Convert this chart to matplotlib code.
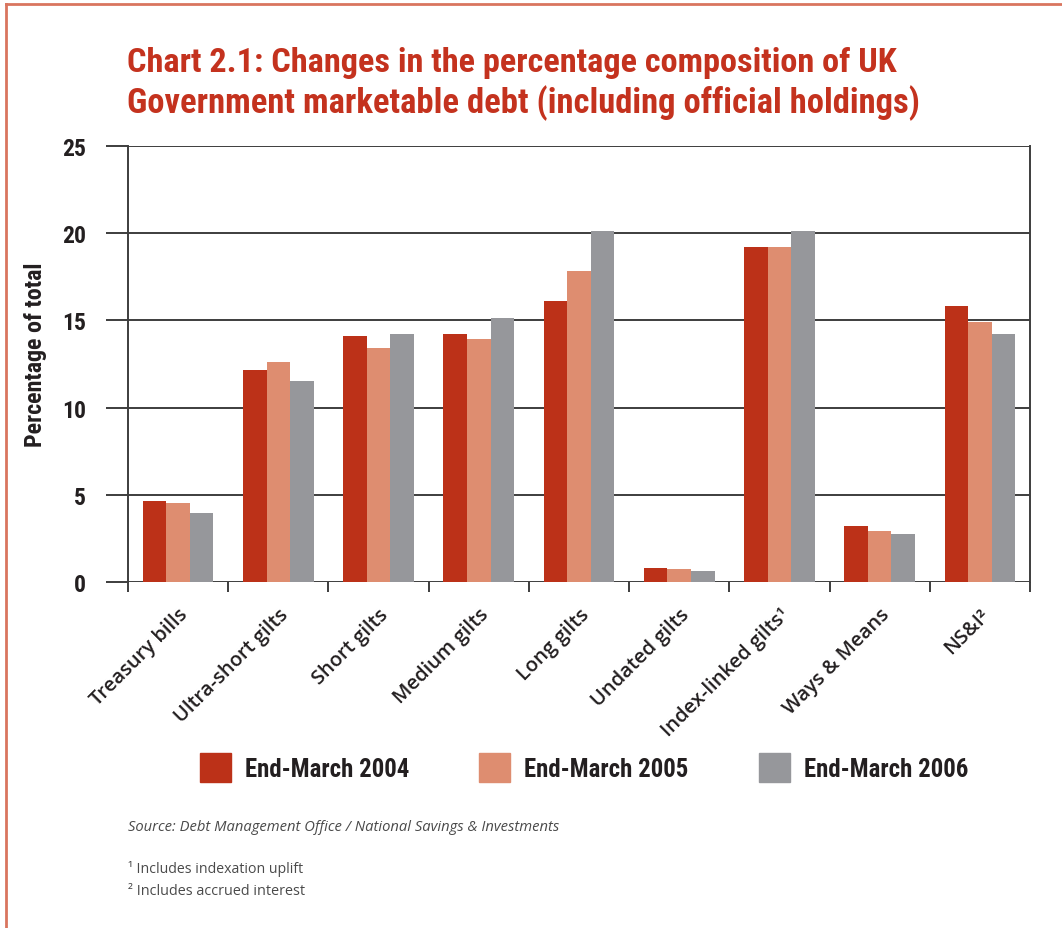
import matplotlib
matplotlib.use("Agg")
import matplotlib.pyplot as plt
from matplotlib.lines import Line2D
from matplotlib.patches import Rectangle
from matplotlib import font_manager as fm
import numpy as np

categories = ["Treasury bills", "Ultra-short gilts", "Short gilts", "Medium gilts",
              "Long gilts", "Undated gilts", "Index-linked gilts\u00b9", "Ways & Means",
              "NS&I\u00b2"]
series_names = ["End-March 2004", "End-March 2005", "End-March 2006"]
v2004 = [4.63, 12.14, 14.09, 14.2, 16.09, 0.78, 19.19, 3.19, 15.8]
v2005 = [4.51, 12.6, 13.4, 13.91, 17.81, 0.73, 19.19, 2.9, 14.89]
v2006 = [3.94, 11.5, 14.2, 15.12, 20.1, 0.61, 20.1, 2.73, 14.2]
yticks = [0, 5, 10, 15, 20, 25]
colors = ["#BC3118", "#DE8D70", "#96979B"]

# pick a condensed font if one is installed
names = {f.name for f in fm.fontManager.ttflist}
cond_cands = ["Roboto Condensed", "DejaVu Sans Condensed", "Liberation Sans Narrow",
              "Open Sans Condensed", "Noto Sans Condensed", "Ubuntu Condensed",
              "Arial Narrow", "Roboto"]
COND_NAME = next((c for c in cond_cands if c in names), "DejaVu Sans")
COND = [COND_NAME, "DejaVu Sans"]
COND_STRETCH = "condensed"
BODY = ["Open Sans", "DejaVu Sans"]

W, H = 1062, 929
fig = plt.figure(figsize=(W / 100, H / 100), dpi=100)
fig.patch.set_facecolor("white")

def px(x, y):
    return x / W, 1 - y / H

ax = fig.add_axes([128 / W, 1 - 583 / H, (1030 - 128) / W, (583 - 147) / H])
x = np.arange(len(categories))
bw = 0.235
for k, vals in enumerate([v2004, v2005, v2006]):
    ax.bar(x + (k - 1) * bw, vals, width=bw, color=colors[k], zorder=3, linewidth=0)

ax.set_xlim(-0.5, len(categories) - 0.5)
ax.set_ylim(0, 25)
gridc = "#3d3d3d"
for yv in yticks:
    ax.axhline(yv, color=gridc, lw=1.4, zorder=2)
ax.set_yticks(yticks)
ax.set_yticklabels([str(t) for t in yticks], family=COND, fontweight="bold",
                   stretch=COND_STRETCH, fontsize=17, color="#231f20")
ax.tick_params(axis="y", length=16, width=1.4, color=gridc, pad=14, direction="out")
ax.set_xticks(x)
ax.set_xticklabels(categories, rotation=45, ha="right", rotation_mode="anchor",
                   family=BODY, fontweight="semibold", fontsize=14.5, color="#231f20")
ax.tick_params(axis="x", which="major", length=0, pad=16)
ax.set_xticks(np.arange(len(categories) + 1) - 0.5, minor=True)
ax.tick_params(axis="x", which="minor", length=7.5, width=1.4, color=gridc, direction="out")
for s in ["top", "bottom"]:
    ax.spines[s].set_visible(False)
for s in ["left", "right"]:
    ax.spines[s].set_color(gridc)
    ax.spines[s].set_linewidth(1.4)

# Title
tc = "#C4321E"
t1 = fig.text(*px(127, 72), "Chart 2.1: Changes in the percentage composition of UK",
              family=COND, fontweight="bold", stretch=COND_STRETCH, fontsize=26,
              color=tc, va="baseline")
t2 = fig.text(*px(127, 113), "Government marketable debt (including official holdings)",
              family=COND, fontweight="bold", stretch=COND_STRETCH, fontsize=26,
              color=tc, va="baseline")

ylab = fig.text(*px(36, 355), "Percentage of total", rotation=90, family=COND,
                fontweight="bold", stretch=COND_STRETCH, fontsize=16, color="#231f20",
                ha="center", va="center")

# Legend
leg_x = [200, 479, 759]
legt = []
for k in range(3):
    fig.patches.append(Rectangle(px(leg_x[k], 783), 31 / W, 29 / H, transform=fig.transFigure,
                                 color=colors[k], figure=fig))
    legt.append(fig.text(*px(leg_x[k] + 45, 777), series_names[k], family=COND,
                         fontweight="bold", stretch=COND_STRETCH, fontsize=18,
                         color="#231f20", va="baseline"))

src = fig.text(*px(128, 831), "Source: Debt Management Office / National Savings & Investments",
               family=BODY, style="italic", fontsize=9.5, color="#4a4a4a", va="baseline")
f1 = fig.text(*px(128, 873), "\u00b9 Includes indexation uplift", family=BODY, fontsize=9.5,
              color="#4a4a4a", va="baseline")
f2 = fig.text(*px(128, 895), "\u00b2 Includes accrued interest", family=BODY, fontsize=9.5,
              color="#4a4a4a", va="baseline")

# Border
bc = "#D9755F"
fig.add_artist(Line2D([6 / W, 1], [1 - 5 / H, 1 - 5 / H], color=bc, lw=2,
                      transform=fig.transFigure))
fig.add_artist(Line2D([6 / W, 6 / W], [0, 1 - 5 / H], color=bc, lw=2,
                      transform=fig.transFigure))

# fit widths to the reference
fig.canvas.draw()
r = fig.canvas.get_renderer()
def fit(t, target, horiz=True):
    bb = t.get_window_extent(r)
    w = bb.width if horiz else bb.height
    t.set_fontsize(t.get_fontsize() * target / w)
fit(t1, 771)
fit(t2, 793)
fit(ylab, 185, horiz=False)
for t in legt:
    fit(t, 164)
fit(src, 432)
fit(f1, 177)
fit(f2, 179)

fig.savefig("out.png", dpi=100)
